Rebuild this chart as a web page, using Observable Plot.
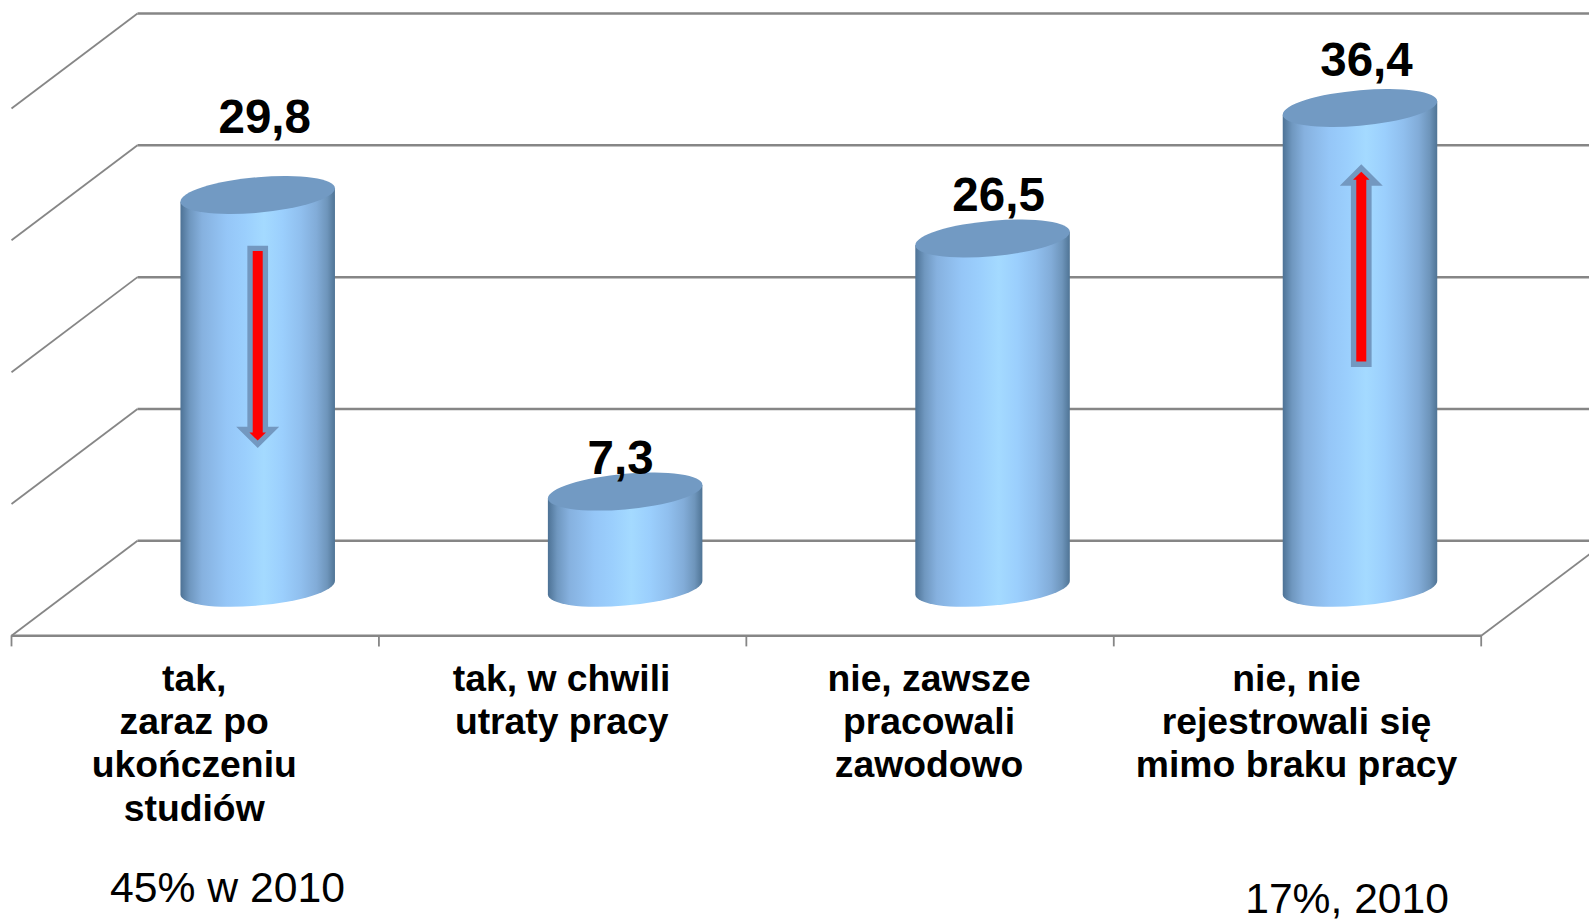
<!DOCTYPE html>
<html><head><meta charset="utf-8">
<style>html,body{margin:0;padding:0;background:#fff;overflow:hidden}svg{display:block}</style>
<script src="https://cdn.jsdelivr.net/npm/d3@7"></script>
<script src="https://cdn.jsdelivr.net/npm/@observablehq/plot@0.6"></script>
</head><body><div id="chart"></div>
<script>
const categories = ["tak,\nzaraz po\nukończeniu\nstudiów", "tak, w chwili\nutraty pracy", "nie, zawsze\npracowali\nzawodowo", "nie, nie\nrejestrowali się\nmimo braku pracy"];
const values = [29.8, 7.3, 26.5, 36.4];
const valueLabels = ["29,8", "7,3", "26,5", "36,4"];
const yTicks = [0, 10, 20, 30, 40];
const xTicks = [0, 1, 2, 3, 4];
const arrowCategory = [0, 3.0035];
const arrowFrom = [25.55, 17.16];
const arrowTo = [11.17, 31.56];
const notes = ["45% w 2010", "17%, 2010"];

// layout (pixels / scale units), separate from the data
const labelNudge = [[6.5, -62], [-5, -18], [5.5, -28], [6, -32.5]];
const depthX = 126 / 367.425, depthY = 95 / 13.18, barW = 0.4205;
const ell = {b: 17.8, k: 6.7};
const font = "'Liberation Sans', Arial, sans-serif";
const grid = "#868686";

const cylinders = (index, {x, y}) => {
  const g = d3.create("svg:g");
  const grad = g.append("defs").append("linearGradient").attr("id", "cyl").attr("x1", 0).attr("x2", 1).attr("y1", 0).attr("y2", 0);
  [[0, "#4d7295"], [0.06, "#6f97bf"], [0.14, "#86b1df"], [0.3, "#95c6f7"], [0.42, "#9bcffd"], [0.54, "#a4daff"], [0.66, "#9bcffd"], [0.78, "#90bfee"], [0.88, "#82acd8"], [0.95, "#6e95bb"], [1, "#4f7495"]]
    .forEach(([o, c]) => grad.append("stop").attr("offset", o).attr("stop-color", c));
  const a = x(barW / 2) - x(0);
  const skew = Math.atan2(ell.k, a) * 180 / Math.PI;
  values.forEach((v, i) => {
    const cx = x(i + 0.5 + depthX / 2), base = y(-depthY / 2), top = y(v - depthY / 2), h = base - top;
    const c = g.append("g").attr("transform", `translate(${cx},${base}) skewY(${-skew})`);
    c.append("path").attr("fill", "url(#cyl)")
      .attr("d", `M${-a},${-h}L${-a},0A${a},${ell.b} 0 0 0 ${a},0L${a},${-h}Z`);
    c.append("ellipse").attr("cx", 0).attr("cy", -h).attr("rx", a).attr("ry", ell.b).attr("fill", "#729ac3");
  });
  return g.node();
};

const arrowPts = (cx, yFrom, yTip, sw, hw, hl, tail, tip) => {
  const s = Math.sign(yTip - yFrom);
  const t = yTip + s * tip, f = yFrom - s * tail, n = t - s * hl;
  return [[cx - sw / 2, f], [cx + sw / 2, f], [cx + sw / 2, n], [cx + hw / 2, n], [cx, t], [cx - hw / 2, n], [cx - sw / 2, n]].join(" ");
};
const arrows = (index, {x, y}) => {
  const g = d3.create("svg:g");
  arrowCategory.forEach((c, i) => {
    const cx = x(c + 0.5 + depthX / 2), f = y(arrowFrom[i] - depthY / 2), t = y(arrowTo[i] - depthY / 2);
    g.append("polygon").attr("fill", "#7398c0").attr("points", arrowPts(cx, f, t, 20.7, 43, 21.4, 5.3, 7.5));
    g.append("polygon").attr("fill", "#ff0000").attr("points", arrowPts(cx, f, t, 10, 16.5, 8, 0, 0));
  });
  return g.node();
};

const chart = Plot.plot({
  width: 1589, height: 919,
  marginTop: 0, marginRight: 0, marginBottom: 0, marginLeft: 0,
  style: {background: "#fff", fontFamily: font},
  x: {type: "linear", domain: [0, 4], range: [11, 1480.7], axis: null},
  y: {type: "linear", domain: [0, 40], range: [540.3, 13], axis: null},
  marks: [
    Plot.link(yTicks, {x1: depthX, x2: 5, y1: d => d, y2: d => d, stroke: grid, strokeWidth: 2.5}),
    Plot.link(yTicks, {x1: 0, x2: depthX, y1: d => d - depthY, y2: d => d, stroke: grid, strokeWidth: 1.8}),
    Plot.link([0], {x1: 4, x2: 4 + depthX, y1: d => d - depthY, y2: d => d, stroke: grid, strokeWidth: 1.8}),
    Plot.link([0], {x1: 0, x2: 4, y1: -depthY, y2: -depthY, stroke: grid, strokeWidth: 2.5}),
    Plot.ruleX(xTicks, {x: d => d, y1: -depthY, y2: -depthY - 0.84, stroke: grid, strokeWidth: 1.8}),
    cylinders,
    arrows,
    ...values.map((v, i) => Plot.text([valueLabels[i]], {
      x: i + 0.5 + depthX / 2, y: v - depthY / 2, text: d => d,
      dx: labelNudge[i][0], dy: labelNudge[i][1], lineAnchor: "bottom",
      fontFamily: font, fontWeight: "bold", fontSize: 47.5, fill: "#000"
    })),
    Plot.text(categories, {
      x: (d, i) => i + 0.5, y: -depthY, dx: -1, dy: 24.4, text: d => d, lineAnchor: "top", lineHeight: 1.16,
      fontFamily: font, fontWeight: "bold", fontSize: 37.3, fill: "#000"
    }),
    Plot.text([notes[0]], {x: 0.588, y: -depthY, dy: 265.7, text: d => d, lineAnchor: "bottom", fontFamily: font, fontSize: 42.7, fill: "#000"}),
    Plot.text([notes[1]], {x: 3.635, y: -depthY, dy: 277, text: d => d, lineAnchor: "bottom", fontFamily: font, fontSize: 42.6, fill: "#000"})
  ]
});
document.getElementById("chart").append(chart);
</script></body></html>
